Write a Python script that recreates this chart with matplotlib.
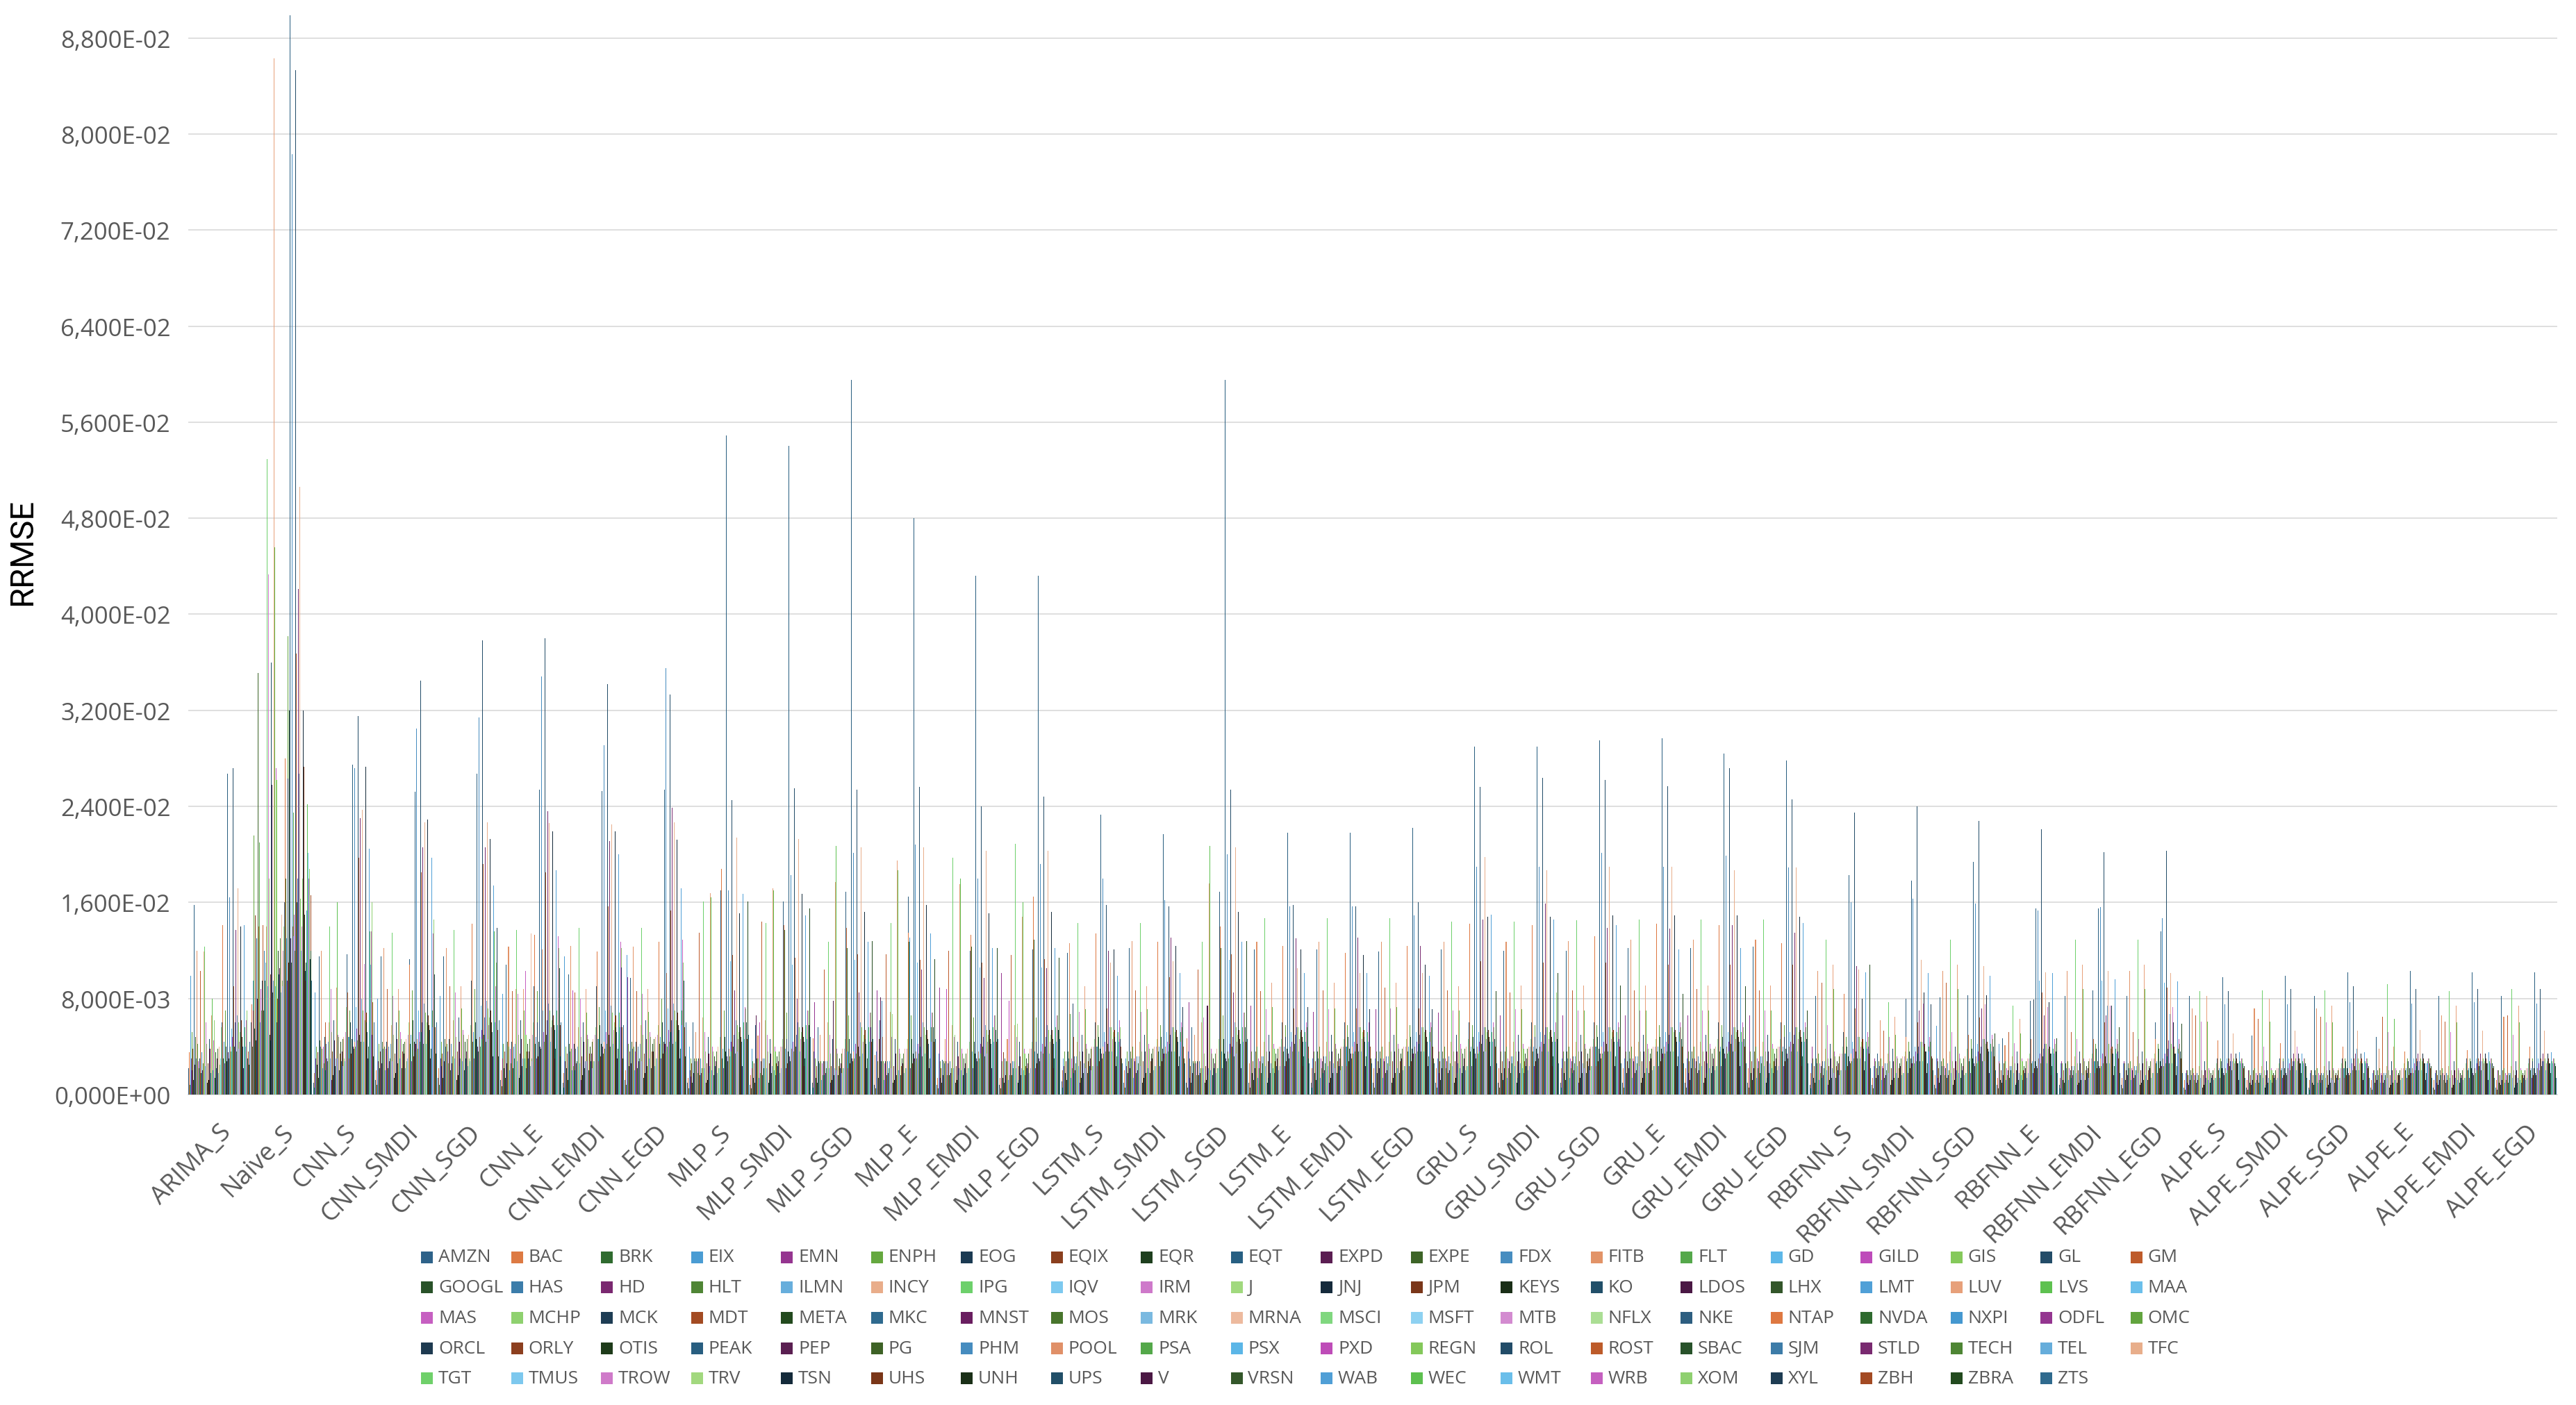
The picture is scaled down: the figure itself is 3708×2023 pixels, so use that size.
import numpy as np
import matplotlib
matplotlib.use("Agg")
import matplotlib.pyplot as plt
from matplotlib.patches import Rectangle
from matplotlib.ticker import FuncFormatter

# ---------------- data ----------------
categories = ["ARIMA_S", "Naive_S",
              "CNN_S", "CNN_SMDI", "CNN_SGD", "CNN_E", "CNN_EMDI", "CNN_EGD",
              "MLP_S", "MLP_SMDI", "MLP_SGD", "MLP_E", "MLP_EMDI", "MLP_EGD",
              "LSTM_S", "LSTM_SMDI", "LSTM_SGD", "LSTM_E", "LSTM_EMDI", "LSTM_EGD",
              "GRU_S", "GRU_SMDI", "GRU_SGD", "GRU_E", "GRU_EMDI", "GRU_EGD",
              "RBFNN_S", "RBFNN_SMDI", "RBFNN_SGD", "RBFNN_E", "RBFNN_EMDI", "RBFNN_EGD",
              "ALPE_S", "ALPE_SMDI", "ALPE_SGD", "ALPE_E", "ALPE_EMDI", "ALPE_EGD"]

series = ["AMZN", "BAC", "BRK", "EIX", "EMN", "ENPH", "EOG", "EQIX", "EQR", "EQT",
          "EXPD", "EXPE", "FDX", "FITB", "FLT", "GD", "GILD", "GIS", "GL", "GM",
          "GOOGL", "HAS", "HD", "HLT", "ILMN", "INCY", "IPG", "IQV", "IRM", "J",
          "JNJ", "JPM", "KEYS", "KO", "LDOS", "LHX", "LMT", "LUV", "LVS", "MAA",
          "MAS", "MCHP", "MCK", "MDT", "META", "MKC", "MNST", "MOS", "MRK", "MRNA",
          "MSCI", "MSFT", "MTB", "NFLX", "NKE", "NTAP", "NVDA", "NXPI", "ODFL", "OMC",
          "ORCL", "ORLY", "OTIS", "PEAK", "PEP", "PG", "PHM", "POOL", "PSA", "PSX",
          "PXD", "REGN", "ROL", "ROST", "SBAC", "SJM", "STLD", "TECH", "TEL", "TFC",
          "TGT", "TMUS", "TROW", "TRV", "TSN", "UHS", "UNH", "UPS", "V", "VRSN",
          "WAB", "WEC", "WMT", "WRB", "XOM", "XYL", "ZBH", "ZBRA", "ZTS"]

series_colors = ["#2E6289", "#DD7A43", "#2F6B2F", "#4A9CD3", "#953590", "#65A83F", "#1B3A52", "#8A3F1E", "#1E3F1E", "#275F82",
                 "#5B1E52", "#3D6427", "#478DC0", "#E29367", "#55A84B", "#5DB7E8", "#BE4BBA", "#85C95B", "#234C68", "#BE5B2B",
                 "#295229", "#3C7DAA", "#7A2870", "#4F8535", "#67AEDC", "#E9AD8A", "#6DD06B", "#7DC9EF", "#CE79CA", "#A1D97E",
                 "#152A3B", "#7A3619", "#1A2E17", "#214F69", "#4A1844", "#33562A", "#50A0D7", "#E7A07A", "#5EC150", "#6BBFEB",
                 "#C65FC1", "#8FD16F", "#1E3D54", "#A34B23", "#234A1E", "#2F6A8F", "#691E60", "#48752C", "#7AB9E0", "#EDBA9E",
                 "#80D77F", "#8ED1F1", "#D38BD0", "#ABDE94", "#2D5E80", "#DE7841", "#2E6A2E", "#4598D0", "#943590", "#62A43E",
                 "#1E3A50", "#8C3F1F", "#1E3B1A", "#285E80", "#5A1F51", "#3E6226", "#468CBF", "#E09068", "#54A84A", "#5BB6E7",
                 "#BE4CB8", "#84C85A", "#224C68", "#BD5B2A", "#28522A", "#3D7CA8", "#792A70", "#4E8534", "#66ADDB", "#E8AE8B",
                 "#6FD06A", "#7DC8EE", "#CF7AC9", "#A2D87E", "#142A3A", "#7A3618", "#1A2F17", "#214F68", "#4B1844", "#34572A",
                 "#509FD6", "#5DC04F", "#6ABEEA", "#C560C0", "#8FD070", "#1E3C53", "#A34A23", "#224A1E", "#2F6A8E"]

# RRMSE values per category, in units of 1e-4, series in the order above
arima_s = [22, 35, 8, 99, 30, 52, 20, 38, 12, 158, 25, 48, 30, 120, 42, 15, 28, 22, 30, 103,
           18, 35, 20, 26, 40, 119, 123, 24, 60, 42, 10, 26, 12, 46, 38, 22, 18, 66, 80, 20,
           45, 62, 14, 28, 35, 22, 30, 38, 18, 40, 25, 30, 40, 56, 60, 141, 30, 44, 26, 70,
           40, 25, 28, 267, 35, 30, 164, 40, 36, 55, 48, 40, 272, 90, 40, 60, 137, 36, 66, 172,
           60, 38, 44, 52, 140, 62, 48, 40, 22, 30, 141, 56, 40, 62, 70, 30, 36, 25, 44]
naive_s = [60, 75, 40, 95, 70, 216, 55, 149, 45, 130, 80, 351, 110, 140, 210, 60, 88, 70, 95, 141,
           70, 120, 65, 95, 110, 140, 529, 90, 433, 180, 50, 100, 45, 360, 258, 85, 95, 863, 456, 90,
           272, 262, 60, 80, 120, 100, 105, 130, 85, 150, 95, 90, 120, 140, 160, 280, 180, 130, 95, 382,
           263, 110, 320, 899, 130, 110, 783, 140, 235, 132, 150, 120, 853, 367, 160, 180, 421, 125, 267, 506,
           163, 120, 140, 180, 320, 273, 150, 103, 95, 110, 153, 242, 201, 180, 188, 113, 166, 120, 95]
cnn_s = [10, 18, 6, 85, 30, 40, 25, 35, 14, 115, 28, 45, 40, 120, 38, 22, 40, 26, 48, 60,
         20, 42, 30, 28, 44, 60, 140, 30, 88, 52, 12, 36, 16, 62, 45, 24, 30, 89, 160, 30,
         50, 48, 20, 34, 44, 28, 36, 46, 24, 48, 30, 28, 52, 73, 117, 85, 40, 48, 30, 70,
         60, 34, 46, 275, 40, 38, 272, 44, 40, 73, 55, 45, 315, 197, 50, 62, 230, 44, 80, 237,
         70, 44, 109, 62, 273, 68, 60, 52, 30, 40, 205, 136, 108, 136, 160, 50, 77, 32, 60]
cnn_smdi = [12, 20, 8, 80, 28, 42, 22, 36, 12, 115, 26, 44, 38, 122, 40, 20, 38, 24, 44, 88,
            22, 40, 28, 30, 42, 58, 135, 28, 82, 50, 14, 34, 18, 60, 46, 26, 28, 88, 70, 30,
            52, 46, 22, 36, 42, 30, 34, 44, 22, 46, 28, 30, 50, 60, 113, 108, 42, 50, 28, 87,
            62, 32, 44, 252, 42, 36, 305, 46, 38, 70, 52, 44, 345, 185, 52, 60, 206, 42, 76, 227,
            68, 42, 56, 60, 229, 66, 58, 54, 30, 38, 197, 70, 56, 134, 146, 100, 56, 34, 60]
cnn_sgd = [14, 22, 8, 82, 30, 44, 24, 34, 14, 115, 28, 46, 40, 122, 42, 22, 36, 26, 46, 90,
           20, 42, 26, 32, 40, 62, 137, 30, 85, 48, 12, 36, 16, 64, 44, 24, 30, 90, 72, 28,
           54, 50, 20, 34, 44, 30, 36, 46, 24, 50, 30, 28, 52, 58, 95, 142, 44, 52, 30, 88,
           60, 34, 46, 267, 40, 36, 314, 48, 40, 74, 54, 46, 378, 192, 50, 64, 206, 44, 78, 227,
           72, 46, 58, 64, 213, 70, 60, 52, 32, 40, 174, 136, 60, 90, 110, 139, 54, 32, 62]
cnn_e = [12, 20, 7, 84, 30, 42, 22, 36, 14, 108, 26, 44, 38, 123, 40, 20, 38, 26, 44, 86,
         22, 40, 28, 30, 42, 88, 137, 28, 84, 50, 14, 34, 16, 62, 46, 24, 30, 88, 70, 30,
         103, 50, 22, 36, 42, 30, 36, 46, 24, 134, 30, 28, 50, 60, 90, 133, 42, 48, 30, 86,
         60, 32, 44, 254, 40, 38, 348, 121, 40, 70, 52, 44, 380, 185, 50, 62, 236, 42, 76, 226,
         70, 44, 56, 62, 219, 66, 58, 54, 30, 38, 187, 70, 58, 132, 122, 105, 58, 32, 60]
cnn_emdi = [10, 18, 6, 115, 28, 40, 22, 34, 12, 100, 24, 42, 36, 124, 38, 20, 87, 24, 42, 85,
            20, 38, 26, 28, 40, 56, 139, 26, 80, 48, 12, 32, 16, 60, 44, 22, 28, 88, 68, 28,
            50, 46, 20, 34, 40, 28, 34, 44, 22, 46, 28, 28, 50, 56, 90, 119, 40, 46, 28, 73,
            58, 32, 42, 253, 40, 34, 291, 44, 38, 70, 52, 42, 342, 157, 50, 60, 211, 40, 74, 225,
            68, 42, 54, 60, 219, 66, 56, 52, 30, 38, 200, 68, 56, 127, 122, 106, 56, 30, 58]
cnn_egd = [12, 20, 8, 116, 98, 42, 24, 36, 14, 97, 26, 44, 38, 123, 40, 20, 36, 26, 44, 86,
           22, 40, 28, 30, 42, 58, 139, 28, 84, 50, 14, 34, 18, 62, 46, 24, 30, 88, 69, 30,
           52, 48, 22, 36, 42, 30, 36, 46, 24, 48, 30, 30, 50, 58, 92, 127, 42, 48, 30, 80,
           60, 34, 44, 254, 42, 36, 355, 101, 40, 72, 54, 44, 333, 153, 52, 62, 239, 42, 76, 227,
           70, 44, 56, 62, 212, 68, 58, 54, 30, 38, 172, 70, 58, 129, 110, 95, 56, 32, 60]
mlp_s = [10, 14, 5, 40, 20, 30, 15, 26, 10, 60, 18, 30, 28, 52, 30, 14, 28, 18, 30, 135,
         16, 30, 18, 22, 30, 64, 161, 22, 52, 36, 10, 26, 12, 48, 34, 18, 24, 168, 164, 20,
         40, 36, 16, 26, 32, 24, 28, 36, 18, 40, 22, 22, 40, 48, 170, 188, 30, 38, 22, 70,
         48, 26, 36, 549, 32, 28, 170, 38, 32, 111, 44, 36, 245, 116, 40, 50, 87, 34, 62, 214,
         58, 36, 46, 52, 151, 56, 48, 44, 24, 30, 167, 60, 46, 73, 72, 60, 46, 161, 50]
mlp_smdi = [8, 16, 5, 38, 22, 28, 14, 26, 10, 58, 66, 30, 26, 49, 30, 14, 60, 18, 28, 144,
            16, 30, 18, 22, 30, 62, 143, 22, 50, 36, 10, 26, 12, 46, 34, 18, 24, 172, 170, 20,
            40, 36, 16, 26, 32, 24, 28, 36, 18, 40, 22, 22, 40, 46, 161, 141, 137, 38, 22, 68,
            46, 26, 36, 540, 32, 28, 183, 38, 32, 108, 44, 36, 255, 114, 40, 50, 80, 34, 60, 213,
            56, 36, 46, 52, 167, 56, 48, 44, 24, 30, 149, 58, 46, 70, 70, 58, 46, 155, 48]
mlp_sgd = [10, 47, 6, 36, 77, 30, 14, 24, 10, 56, 18, 28, 26, 50, 28, 12, 26, 16, 28, 104,
           16, 28, 18, 22, 28, 60, 127, 22, 50, 34, 10, 24, 12, 46, 78, 16, 22, 177, 207, 20,
           38, 34, 16, 24, 30, 22, 26, 34, 18, 38, 22, 22, 38, 46, 169, 139, 122, 36, 22, 66,
           46, 26, 34, 595, 30, 28, 201, 36, 30, 112, 42, 34, 254, 117, 40, 48, 85, 32, 60, 206,
           56, 34, 44, 50, 152, 54, 46, 42, 22, 30, 127, 56, 44, 68, 68, 56, 44, 128, 46]
mlp_e = [8, 33, 5, 36, 87, 28, 14, 46, 10, 62, 81, 28, 78, 48, 28, 12, 26, 16, 28, 117,
         16, 28, 18, 22, 28, 69, 143, 22, 48, 67, 10, 24, 12, 46, 34, 16, 22, 195, 187, 20,
         38, 34, 16, 24, 30, 22, 26, 34, 18, 38, 22, 22, 38, 46, 165, 135, 127, 131, 22, 66,
         46, 26, 34, 480, 30, 28, 208, 36, 30, 110, 42, 34, 256, 112, 40, 48, 104, 32, 60, 206,
         56, 34, 44, 50, 158, 54, 46, 42, 22, 30, 134, 56, 44, 68, 68, 56, 44, 113, 46]
mlp_emdi = [8, 14, 5, 34, 89, 28, 14, 22, 10, 29, 16, 28, 26, 46, 28, 12, 88, 16, 26, 120,
            16, 28, 18, 22, 28, 58, 197, 22, 48, 50, 10, 24, 12, 44, 32, 16, 22, 175, 180, 20,
            38, 34, 16, 24, 30, 22, 26, 34, 18, 38, 22, 22, 38, 44, 120, 133, 123, 36, 22, 64,
            44, 26, 34, 432, 30, 28, 180, 36, 30, 106, 42, 34, 240, 110, 40, 48, 97, 32, 58, 203,
            54, 34, 44, 50, 151, 54, 46, 42, 22, 30, 122, 56, 44, 66, 66, 54, 44, 122, 46]
mlp_egd = [8, 14, 5, 34, 101, 28, 14, 35, 10, 30, 16, 28, 26, 46, 28, 12, 78, 16, 26, 116,
           16, 28, 18, 22, 28, 58, 209, 22, 48, 59, 10, 24, 12, 44, 32, 16, 22, 148, 160, 20,
           38, 34, 16, 24, 30, 22, 26, 34, 18, 38, 22, 22, 38, 44, 121, 165, 129, 36, 22, 64,
           44, 26, 34, 432, 30, 28, 192, 36, 30, 106, 42, 34, 248, 113, 40, 48, 105, 32, 58, 203,
           54, 34, 44, 50, 152, 54, 46, 42, 22, 30, 122, 56, 44, 66, 66, 54, 44, 114, 46]
lstm_s = [11, 20, 6, 30, 24, 36, 18, 28, 12, 118, 22, 36, 30, 126, 67, 14, 30, 22, 76, 48,
          18, 32, 20, 26, 32, 44, 143, 24, 69, 36, 10, 28, 14, 50, 36, 18, 26, 90, 71, 22,
          42, 38, 18, 28, 34, 24, 30, 38, 20, 40, 24, 24, 40, 46, 60, 134, 36, 40, 24, 58,
          48, 28, 38, 233, 34, 30, 180, 40, 34, 52, 44, 36, 158, 72, 42, 50, 120, 36, 56, 110,
          56, 36, 46, 52, 121, 54, 48, 44, 24, 32, 99, 52, 44, 62, 56, 46, 40, 30, 26]
lstm_smdi = [10, 20, 6, 30, 24, 36, 18, 28, 12, 122, 22, 36, 30, 128, 40, 14, 30, 22, 28, 87,
             18, 32, 20, 26, 32, 44, 143, 24, 69, 36, 10, 28, 14, 50, 36, 18, 26, 90, 71, 22,
             42, 38, 18, 28, 34, 24, 30, 38, 20, 40, 24, 24, 40, 46, 60, 127, 36, 40, 24, 58,
             48, 28, 38, 217, 34, 30, 162, 40, 34, 52, 44, 36, 157, 98, 42, 50, 131, 36, 56, 111,
             56, 36, 46, 52, 124, 54, 48, 44, 24, 32, 101, 52, 44, 60, 56, 73, 40, 30, 26]
lstm_sgd = [10, 47, 6, 36, 77, 30, 14, 24, 10, 56, 18, 28, 26, 50, 28, 12, 26, 16, 28, 104,
            16, 28, 18, 22, 28, 60, 127, 22, 64, 34, 10, 24, 12, 46, 74, 16, 22, 176, 207, 20,
            38, 34, 16, 24, 30, 22, 26, 34, 18, 38, 22, 22, 38, 46, 169, 140, 122, 36, 22, 66,
            46, 26, 34, 595, 30, 28, 200, 36, 30, 112, 42, 34, 254, 117, 40, 48, 85, 32, 60, 206,
            56, 34, 44, 50, 152, 54, 46, 42, 22, 30, 127, 56, 44, 68, 68, 56, 44, 128, 46]
lstm_e = [10, 26, 6, 30, 74, 36, 18, 28, 12, 121, 22, 36, 30, 127, 40, 14, 30, 22, 28, 86,
          18, 32, 20, 26, 32, 44, 147, 24, 71, 36, 10, 28, 14, 50, 36, 18, 26, 93, 73, 22,
          42, 38, 18, 28, 34, 24, 30, 38, 20, 40, 24, 24, 40, 46, 60, 124, 36, 40, 24, 58,
          48, 28, 38, 218, 34, 30, 157, 40, 34, 52, 44, 36, 158, 72, 42, 50, 130, 36, 56, 105,
          56, 36, 46, 52, 121, 54, 48, 44, 24, 32, 101, 52, 44, 60, 56, 73, 40, 30, 26]
lstm_emdi = [10, 22, 6, 30, 69, 36, 18, 28, 12, 121, 22, 36, 30, 127, 40, 14, 30, 22, 28, 87,
             18, 32, 20, 26, 32, 44, 147, 24, 71, 36, 10, 28, 14, 50, 36, 18, 26, 93, 72, 22,
             42, 38, 18, 28, 34, 24, 30, 38, 20, 40, 24, 24, 40, 46, 60, 118, 36, 40, 24, 58,
             48, 28, 38, 218, 34, 30, 157, 40, 34, 52, 44, 36, 157, 72, 42, 50, 131, 36, 56, 101,
             56, 36, 46, 52, 116, 54, 48, 44, 24, 32, 101, 52, 44, 60, 56, 71, 40, 30, 26]
lstm_egd = [10, 22, 6, 30, 71, 36, 18, 28, 12, 119, 22, 36, 30, 127, 40, 14, 30, 22, 28, 89,
            18, 32, 20, 26, 32, 44, 147, 24, 72, 36, 10, 28, 14, 50, 36, 18, 26, 93, 73, 22,
            42, 38, 18, 28, 34, 24, 30, 38, 20, 40, 24, 24, 40, 46, 60, 124, 36, 40, 24, 58,
            48, 28, 38, 222, 34, 30, 149, 40, 34, 52, 44, 36, 160, 72, 42, 50, 124, 36, 56, 101,
            56, 36, 46, 52, 108, 54, 48, 44, 24, 32, 99, 52, 44, 60, 56, 71, 40, 30, 26]
gru_s = [10, 22, 6, 30, 68, 36, 18, 28, 12, 121, 22, 36, 30, 127, 40, 14, 30, 22, 28, 87,
         18, 32, 20, 26, 32, 44, 144, 24, 70, 36, 10, 28, 14, 50, 36, 18, 26, 90, 70, 22,
         42, 38, 18, 28, 34, 24, 30, 38, 20, 40, 24, 24, 40, 46, 60, 142, 36, 40, 24, 58,
         48, 28, 38, 290, 34, 30, 190, 40, 34, 52, 44, 36, 256, 111, 42, 50, 146, 36, 56, 198,
         56, 36, 46, 52, 148, 54, 48, 44, 24, 32, 150, 52, 44, 60, 56, 46, 40, 86, 26]
gru_smdi = [10, 22, 6, 30, 66, 36, 18, 28, 12, 120, 22, 36, 30, 127, 40, 14, 30, 22, 28, 85,
            18, 32, 20, 26, 32, 44, 144, 24, 71, 36, 10, 28, 14, 50, 36, 18, 26, 91, 71, 22,
            42, 38, 18, 28, 34, 24, 30, 38, 20, 40, 24, 24, 40, 46, 60, 141, 36, 40, 24, 58,
            48, 28, 38, 290, 34, 30, 190, 40, 34, 52, 44, 36, 264, 110, 42, 50, 159, 36, 56, 187,
            56, 36, 46, 52, 148, 54, 48, 44, 24, 32, 146, 52, 44, 60, 85, 46, 40, 101, 26]
gru_sgd = [10, 22, 6, 30, 66, 36, 18, 28, 12, 120, 22, 36, 30, 128, 40, 14, 30, 22, 28, 87,
           18, 32, 20, 26, 32, 44, 145, 24, 70, 36, 10, 28, 14, 50, 36, 18, 26, 91, 70, 22,
           42, 38, 18, 28, 34, 24, 30, 38, 20, 40, 24, 24, 40, 46, 60, 132, 36, 40, 24, 58,
           48, 28, 38, 295, 34, 30, 201, 40, 34, 52, 44, 36, 262, 110, 42, 50, 139, 36, 56, 190,
           56, 36, 46, 52, 149, 54, 48, 44, 24, 32, 141, 52, 44, 60, 56, 46, 40, 91, 26]
gru_e = [10, 22, 6, 30, 66, 36, 18, 28, 12, 122, 22, 36, 30, 129, 40, 14, 30, 22, 28, 87,
         18, 32, 20, 26, 32, 44, 146, 24, 70, 36, 10, 28, 14, 50, 36, 18, 26, 91, 70, 22,
         42, 38, 18, 28, 34, 24, 30, 38, 20, 40, 24, 24, 40, 46, 60, 142, 36, 40, 24, 58,
         48, 28, 38, 297, 34, 30, 190, 40, 34, 52, 44, 36, 257, 108, 42, 50, 138, 36, 56, 190,
         56, 36, 46, 52, 149, 54, 48, 44, 24, 32, 121, 52, 44, 60, 56, 46, 40, 84, 26]
gru_emdi = [10, 22, 6, 30, 66, 36, 18, 28, 12, 122, 22, 36, 30, 129, 40, 14, 30, 22, 28, 88,
            18, 32, 20, 26, 32, 44, 146, 24, 70, 36, 10, 28, 14, 50, 36, 18, 26, 91, 70, 22,
            42, 38, 18, 28, 34, 24, 30, 38, 20, 40, 24, 24, 40, 46, 60, 141, 36, 40, 24, 58,
            48, 28, 38, 284, 34, 30, 199, 40, 34, 52, 44, 36, 272, 108, 42, 50, 141, 36, 56, 187,
            56, 36, 46, 52, 149, 54, 48, 44, 24, 32, 122, 52, 44, 60, 56, 46, 40, 90, 26]
gru_egd = [10, 22, 6, 30, 66, 36, 18, 28, 12, 123, 22, 36, 30, 129, 40, 14, 30, 22, 28, 87,
           18, 32, 20, 26, 32, 44, 146, 24, 70, 36, 10, 28, 14, 50, 36, 18, 26, 91, 70, 22,
           42, 38, 18, 28, 34, 24, 30, 38, 20, 40, 24, 24, 40, 46, 60, 126, 36, 40, 24, 58,
           48, 28, 38, 278, 34, 30, 189, 40, 34, 52, 44, 36, 246, 108, 42, 50, 135, 36, 56, 189,
           56, 36, 46, 52, 148, 54, 48, 44, 24, 32, 143, 52, 44, 60, 56, 46, 40, 70, 26]
rbfnn_s = [8, 18, 5, 26, 40, 30, 14, 24, 10, 82, 18, 30, 26, 103, 34, 12, 26, 18, 24, 93,
           14, 28, 16, 22, 28, 38, 129, 20, 58, 30, 8, 24, 12, 42, 30, 14, 22, 108, 88, 18,
           36, 32, 14, 24, 28, 20, 26, 32, 16, 34, 20, 20, 34, 40, 52, 84, 30, 34, 20, 48,
           40, 24, 32, 183, 28, 26, 160, 34, 28, 44, 38, 30, 235, 72, 36, 42, 107, 30, 48, 104,
           48, 30, 40, 44, 80, 46, 40, 38, 20, 28, 102, 44, 38, 52, 48, 40, 34, 108, 22]
rbfnn_smdi = [8, 14, 5, 24, 30, 28, 14, 22, 10, 34, 16, 28, 24, 62, 30, 12, 24, 16, 22, 53,
              14, 26, 16, 20, 26, 34, 77, 18, 48, 28, 8, 22, 12, 38, 28, 14, 20, 65, 50, 18,
              32, 30, 14, 22, 26, 20, 24, 30, 16, 32, 18, 18, 32, 36, 80, 48, 28, 30, 18, 44,
              36, 22, 30, 178, 26, 24, 163, 32, 26, 40, 36, 28, 240, 60, 34, 40, 70, 28, 44, 112,
              44, 28, 76, 40, 85, 42, 36, 36, 18, 26, 101, 40, 36, 48, 44, 75, 32, 30, 20]
rbfnn_sgd = [8, 16, 5, 57, 30, 28, 14, 22, 10, 81, 16, 28, 24, 103, 30, 12, 24, 16, 22, 93,
             14, 26, 16, 20, 26, 36, 129, 18, 52, 28, 8, 22, 12, 40, 28, 14, 20, 108, 88, 18,
             34, 30, 14, 22, 26, 20, 24, 30, 16, 32, 18, 18, 32, 38, 83, 50, 28, 30, 18, 46,
             38, 22, 30, 194, 26, 24, 159, 32, 26, 42, 36, 28, 228, 64, 34, 40, 72, 28, 46, 107,
             46, 28, 75, 42, 83, 44, 38, 36, 18, 26, 99, 42, 36, 50, 46, 40, 32, 51, 20]
rbfnn_e = [8, 14, 5, 42, 28, 26, 12, 20, 10, 47, 16, 26, 22, 41, 28, 12, 22, 16, 20, 52,
           14, 24, 16, 20, 24, 32, 74, 18, 43, 26, 8, 20, 10, 36, 26, 12, 18, 63, 51, 16,
           30, 28, 12, 20, 24, 18, 22, 28, 14, 30, 18, 18, 30, 34, 78, 46, 26, 28, 18, 42,
           79, 22, 28, 155, 24, 22, 153, 30, 24, 95, 34, 26, 221, 85, 32, 38, 66, 26, 42, 102,
           42, 26, 73, 38, 77, 40, 34, 34, 16, 24, 101, 38, 34, 46, 42, 36, 30, 47, 18]
rbfnn_emdi = [8, 14, 5, 26, 28, 26, 12, 20, 10, 82, 16, 26, 22, 103, 28, 12, 22, 16, 20, 52,
              14, 24, 16, 20, 24, 32, 129, 18, 46, 26, 8, 20, 10, 36, 26, 12, 18, 108, 88, 16,
              30, 28, 12, 20, 24, 18, 22, 28, 14, 30, 18, 18, 30, 34, 87, 46, 26, 28, 18, 42,
              38, 22, 28, 155, 24, 22, 156, 30, 24, 95, 34, 26, 202, 60, 32, 38, 66, 26, 74, 103,
              42, 26, 74, 38, 74, 40, 34, 34, 16, 24, 96, 38, 34, 46, 42, 36, 30, 56, 18]
rbfnn_egd = [8, 14, 5, 26, 28, 26, 12, 20, 10, 82, 16, 26, 22, 103, 28, 12, 22, 16, 20, 52,
             14, 24, 16, 20, 24, 32, 129, 18, 46, 26, 8, 20, 10, 36, 26, 12, 18, 108, 88, 16,
             30, 28, 12, 20, 24, 18, 22, 28, 14, 30, 18, 18, 30, 34, 60, 46, 26, 28, 18, 42,
             38, 22, 28, 136, 24, 22, 147, 30, 24, 93, 34, 26, 203, 89, 32, 38, 45, 26, 67, 101,
             42, 26, 73, 38, 60, 40, 34, 34, 16, 24, 94, 38, 34, 46, 42, 36, 30, 59, 18]
alpe_s = [6, 12, 4, 18, 20, 20, 10, 16, 8, 82, 12, 20, 16, 72, 22, 10, 18, 12, 16, 66,
          10, 18, 12, 16, 18, 24, 86, 14, 61, 20, 6, 16, 8, 28, 20, 10, 14, 82, 61, 12,
          22, 20, 10, 16, 18, 14, 16, 20, 12, 22, 14, 14, 22, 26, 30, 45, 20, 22, 14, 30,
          28, 16, 22, 98, 18, 16, 75, 22, 18, 30, 26, 20, 86, 30, 24, 28, 34, 20, 28, 51,
          30, 20, 26, 28, 34, 30, 26, 26, 12, 18, 35, 28, 26, 30, 30, 26, 22, 24, 14]
alpe_smdi = [6, 12, 4, 18, 20, 20, 10, 16, 8, 49, 12, 20, 16, 72, 22, 10, 18, 12, 16, 63,
             10, 18, 12, 16, 18, 24, 87, 14, 40, 20, 6, 16, 8, 28, 20, 10, 14, 80, 61, 12,
             22, 20, 10, 16, 18, 14, 16, 20, 12, 22, 14, 14, 22, 26, 30, 43, 20, 22, 14, 30,
             28, 16, 22, 99, 18, 16, 75, 22, 18, 30, 26, 20, 88, 30, 24, 28, 34, 20, 28, 53,
             30, 20, 40, 28, 34, 30, 26, 26, 12, 18, 34, 28, 26, 30, 30, 26, 22, 24, 14]
alpe_sgd = [6, 12, 4, 18, 20, 20, 10, 16, 8, 82, 12, 20, 16, 72, 22, 10, 18, 12, 16, 65,
            10, 18, 12, 16, 18, 24, 87, 14, 60, 20, 6, 16, 8, 28, 20, 10, 14, 74, 60, 12,
            22, 20, 10, 16, 18, 14, 16, 20, 12, 22, 14, 14, 22, 26, 30, 40, 20, 22, 14, 30,
            28, 16, 22, 102, 18, 16, 77, 22, 18, 30, 26, 20, 90, 30, 24, 28, 34, 20, 38, 53,
            30, 20, 26, 28, 34, 30, 26, 26, 12, 18, 35, 28, 26, 30, 30, 26, 22, 24, 14]
alpe_e = [6, 12, 4, 18, 20, 20, 10, 16, 8, 48, 12, 20, 16, 38, 22, 10, 18, 12, 16, 65,
          10, 18, 12, 16, 18, 24, 92, 14, 52, 20, 6, 16, 8, 28, 20, 10, 14, 40, 63, 12,
          22, 20, 10, 16, 18, 14, 16, 20, 12, 22, 14, 14, 22, 26, 30, 36, 20, 22, 14, 30,
          28, 16, 22, 103, 18, 16, 76, 22, 18, 30, 26, 20, 88, 30, 24, 28, 34, 20, 28, 54,
          30, 20, 26, 28, 34, 30, 26, 26, 12, 18, 26, 28, 26, 30, 30, 26, 22, 24, 14]
alpe_emdi = [6, 12, 4, 18, 20, 20, 10, 16, 8, 82, 12, 20, 16, 66, 22, 10, 18, 12, 16, 61,
             10, 18, 12, 16, 18, 24, 86, 14, 52, 20, 6, 16, 8, 28, 20, 10, 14, 74, 60, 12,
             22, 20, 10, 16, 18, 14, 16, 20, 12, 22, 14, 14, 22, 26, 30, 37, 20, 22, 14, 30,
             28, 16, 22, 102, 18, 16, 77, 22, 18, 30, 26, 20, 88, 30, 24, 28, 34, 20, 28, 53,
             30, 20, 26, 28, 34, 30, 26, 26, 12, 18, 35, 28, 26, 30, 30, 26, 22, 24, 14]
alpe_egd = [6, 12, 4, 18, 20, 20, 10, 16, 8, 82, 12, 20, 16, 65, 22, 10, 18, 12, 16, 66,
            10, 18, 12, 16, 18, 24, 88, 14, 50, 20, 6, 16, 8, 28, 20, 10, 14, 74, 60, 12,
            22, 20, 10, 16, 18, 14, 16, 20, 12, 22, 14, 14, 22, 26, 30, 40, 20, 22, 14, 30,
            28, 16, 22, 102, 18, 16, 76, 22, 18, 30, 26, 20, 88, 30, 24, 28, 34, 20, 28, 53,
            30, 20, 26, 28, 34, 30, 26, 26, 12, 18, 35, 28, 26, 30, 30, 26, 22, 24, 14]

category_values = [arima_s, naive_s,
                   cnn_s, cnn_smdi, cnn_sgd, cnn_e, cnn_emdi, cnn_egd,
                   mlp_s, mlp_smdi, mlp_sgd, mlp_e, mlp_emdi, mlp_egd,
                   lstm_s, lstm_smdi, lstm_sgd, lstm_e, lstm_emdi, lstm_egd,
                   gru_s, gru_smdi, gru_sgd, gru_e, gru_emdi, gru_egd,
                   rbfnn_s, rbfnn_smdi, rbfnn_sgd, rbfnn_e, rbfnn_emdi, rbfnn_egd,
                   alpe_s, alpe_smdi, alpe_sgd, alpe_e, alpe_emdi, alpe_egd]
value_unit = 1e-4

for name, vals in zip(categories, category_values):
    assert len(vals) == len(series), (name, len(vals))

# ---------------- figure ----------------
W, H = 3708, 2024
DPI = 200
fig = plt.figure(figsize=(W / DPI, H / DPI), dpi=DPI)
fig.patch.set_facecolor("white")

ax_left, ax_right = 270.5, 3681.0
ax_top, ax_bot = 21.0, 1577.0
ax = fig.add_axes([ax_left / W, 1 - ax_bot / H, (ax_right - ax_left) / W, (ax_bot - ax_top) / H])

data = np.array(category_values, dtype=float) * value_unit  # (n_cat, n_series)
n_cat, n_ser = data.shape
gap = 1.6
bw = 1.0 / (n_ser + gap)
xc = np.arange(n_cat)
mid = (n_ser - 1) / 2.0
for j in range(n_ser):
    ax.bar(xc + (j - mid) * bw, data[:, j], width=bw * 1.15, color=series_colors[j],
           linewidth=0, antialiased=False, zorder=3)

ax.set_xlim(-0.5, n_cat - 0.5)
ax.set_ylim(0, 0.09)
ax.set_yticks(np.arange(0, 0.0881, 0.008))
ax.yaxis.set_major_formatter(FuncFormatter(lambda v, p: ("%.3E" % v).replace(".", ",")))
ax.grid(axis="y", color="#D9D9D9", linewidth=0.6, zorder=0)
ax.set_axisbelow(True)
for s in ["top", "right", "left"]:
    ax.spines[s].set_visible(False)
ax.spines["bottom"].set_color("#D9D9D9")
ax.spines["bottom"].set_linewidth(0.6)

label_font = ["Open Sans", "DejaVu Sans"]
ax.tick_params(axis="y", length=0, pad=9, labelsize=12.5, labelcolor="#595959")
for t in ax.get_yticklabels():
    t.set_fontfamily(label_font)
ax.set_xticks(xc)
ax.set_xticklabels(categories, rotation=45, ha="right", va="top",
                   rotation_mode="anchor", fontsize=13, color="#595959",
                   fontfamily=label_font)
ax.tick_params(axis="x", length=0, pad=13)

fig.text(32 / W, 1 - 795 / H, "RRMSE", rotation=90, ha="center", va="center",
         fontsize=17, color="black",
         fontfamily=["Liberation Sans Narrow", "Roboto", "DejaVu Sans"])

# ---------------- legend (Excel style grid, row-major) ----------------
leg_x0, leg_pitch_x = 606.0, 129.5
leg_y0, leg_pitch_y = 1811.0, 43.7
sq = 17.0
for idx, (name, col) in enumerate(zip(series, series_colors)):
    r, c = divmod(idx, 20)
    x = leg_x0 + c * leg_pitch_x
    y = leg_y0 + r * leg_pitch_y
    fig.patches.append(Rectangle((x / W, 1 - (y + sq / 2) / H), sq / W, sq / H,
                                 transform=fig.transFigure, facecolor=col,
                                 edgecolor="none"))
    fig.text((x + 25) / W, 1 - y / H, name, ha="left", va="center",
             fontsize=9.5, color="#595959", fontfamily=label_font)

fig.savefig("out.png", dpi=DPI, facecolor="white")
